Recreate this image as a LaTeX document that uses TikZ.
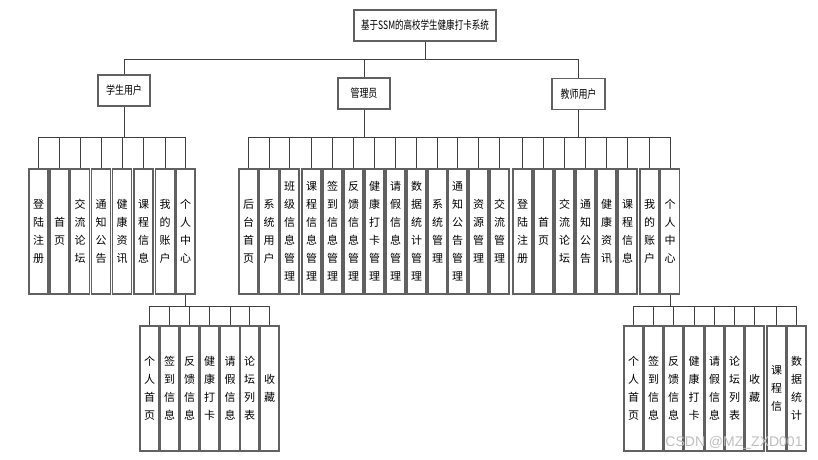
\documentclass[tikz,border=0pt]{standalone}
\usepackage{fontspec}
\setmainfont{Noto Sans CJK SC}
\newfontfamily\wmfont{Liberation Sans}
\begin{document}
\begin{tikzpicture}[x=1pt,y=-1pt]
\tikzset{
 box/.style={draw=black!62, line width=1.2pt, fill=white, inner sep=0pt},
 leaf/.style={box, minimum width=19pt, minimum height=125pt, align=center, font=\fontsize{11}{18}\selectfont},
 topbox/.style={box, minimum height=31pt, font=\fontsize{11.5}{12}\selectfont},
 link/.style={draw=black!75, line width=0.9pt},
}
\useasboundingbox (0,0) rectangle (818,459);
\coordinate (L1) at (0,59);
\coordinate (L2) at (0,137);
\coordinate (L3) at (0,306);

\node[topbox, minimum width=142pt] (root) at (425,25.5) {\scalebox{0.74}[1]{基于SSM的高校学生健康打卡系统}};
\node[topbox, minimum width=52pt] (stu) at (124,90.5) {\scalebox{0.78}[1]{学生用户}};
\node[topbox, minimum width=52pt] (adm) at (364,93.5) {\scalebox{0.78}[1]{管理员}};
\node[topbox, minimum width=53pt] (tea) at (578.5,94) {\scalebox{0.78}[1]{教师用户}};

% student leaves
\foreach \x/\t [count=\i] in {38.5/{登\\陆\\注\\册}, 59.5/{首\\页}, 80/{交\\流\\论\\坛}, 101/{通\\知\\公\\告}, 122/{健\\康\\资\\讯}, 143.5/{课\\程\\信\\息}, 165/{我\\的\\账\\户}, 185.5/{个\\人\\中\\心}}
  \node[leaf] (s\i) at (\x,231.5) {\t};
% admin leaves
\foreach \x/\t [count=\i] in {248.5/{后\\台\\首\\页}, 269/{系\\统\\用\\户}, 289.5/{班\\级\\信\\息\\管\\理}, 311.5/{课\\程\\信\\息\\管\\理}, 332.5/{签\\到\\信\\息\\管\\理}, 353.5/{反\\馈\\信\\息\\管\\理}, 374.5/{健\\康\\打\\卡\\管\\理}, 395.5/{请\\假\\信\\息\\管\\理}, 416.5/{数\\据\\统\\计\\管\\理}, 437.5/{系\\统\\管\\理}, 457.5/{通\\知\\公\\告\\管\\理}, 478.5/{资\\源\\管\\理}, 499.5/{交\\流\\管\\理}}
  \node[leaf] (a\i) at (\x,231.5) {\t};
% teacher leaves
\foreach \x/\t [count=\i] in {522.5/{登\\陆\\注\\册}, 543.5/{首\\页}, 564.5/{交\\流\\论\\坛}, 585.5/{通\\知\\公\\告}, 606.5/{健\\康\\资\\讯}, 627.5/{课\\程\\信\\息}, 649.5/{我\\的\\账\\户}, 670/{个\\人\\中\\心}}
  \node[leaf] (t\i) at (\x,231.5) {\t};
% student sub
\foreach \x/\t [count=\i] in {149.5/{个\\人\\首\\页}, 169.5/{签\\到\\信\\息}, 189.5/{反\\馈\\信\\息}, 209.5/{健\\康\\打\\卡}, 230/{请\\假\\信\\息}, 249.5/{论\\坛\\列\\表}, 269.5/{收\\藏}}
  \node[leaf] (p\i) at (\x,388.5) {\t};
% teacher sub
\foreach \x/\t [count=\i] in {633.5/{个\\人\\首\\页}, 653.5/{签\\到\\信\\息}, 673.5/{反\\馈\\信\\息}, 694/{健\\康\\打\\卡}, 714.5/{请\\假\\信\\息}, 734.5/{论\\坛\\列\\表}, 754.5/{收\\藏}, 776.5/{课\\程\\信}, 796.5/{数\\据\\统\\计}}
  \node[leaf] (q\i) at (\x,388.5) {\t};

% level 1
\draw[link] (root.south) -- (root.south |- L1);
\draw[link] (stu.north |- L1) -- (tea.north |- L1);
\foreach \n in {stu,adm,tea} \draw[link] (\n.north) -- (\n.north |- L1);
% level 2
\foreach \n in {stu,adm,tea} \draw[link] (\n.south) -- (\n.south |- L2);
\draw[link] (s1.north |- L2) -- (s8.north |- L2);
\draw[link] (a1.north |- L2) -- (t8.north |- L2);
\foreach \i in {1,...,8} \draw[link] (s\i.north) -- (s\i.north |- L2);
\foreach \i in {1,...,13} \draw[link] (a\i.north) -- (a\i.north |- L2);
\foreach \i in {1,...,8} \draw[link] (t\i.north) -- (t\i.north |- L2);
% level 3
\draw[link] (s8.south) -- (s8.south |- L3);
\draw[link] (p1.north |- L3) -- (p7.north |- L3);
\foreach \i in {1,...,7} \draw[link] (p\i.north) -- (p\i.north |- L3);
\draw[link] (t8.south) -- (t8.south |- L3);
\draw[link] (q1.north |- L3) -- (q9.north |- L3);
\foreach \i in {1,...,9} \draw[link] (q\i.north) -- (q\i.north |- L3);

\node[font=\wmfont\fontsize{14}{14}\selectfont, text=black!25, inner sep=0pt] (wm) at (734,443) {CSDN @MZ\_ZXD001};
\end{tikzpicture}
\end{document}
